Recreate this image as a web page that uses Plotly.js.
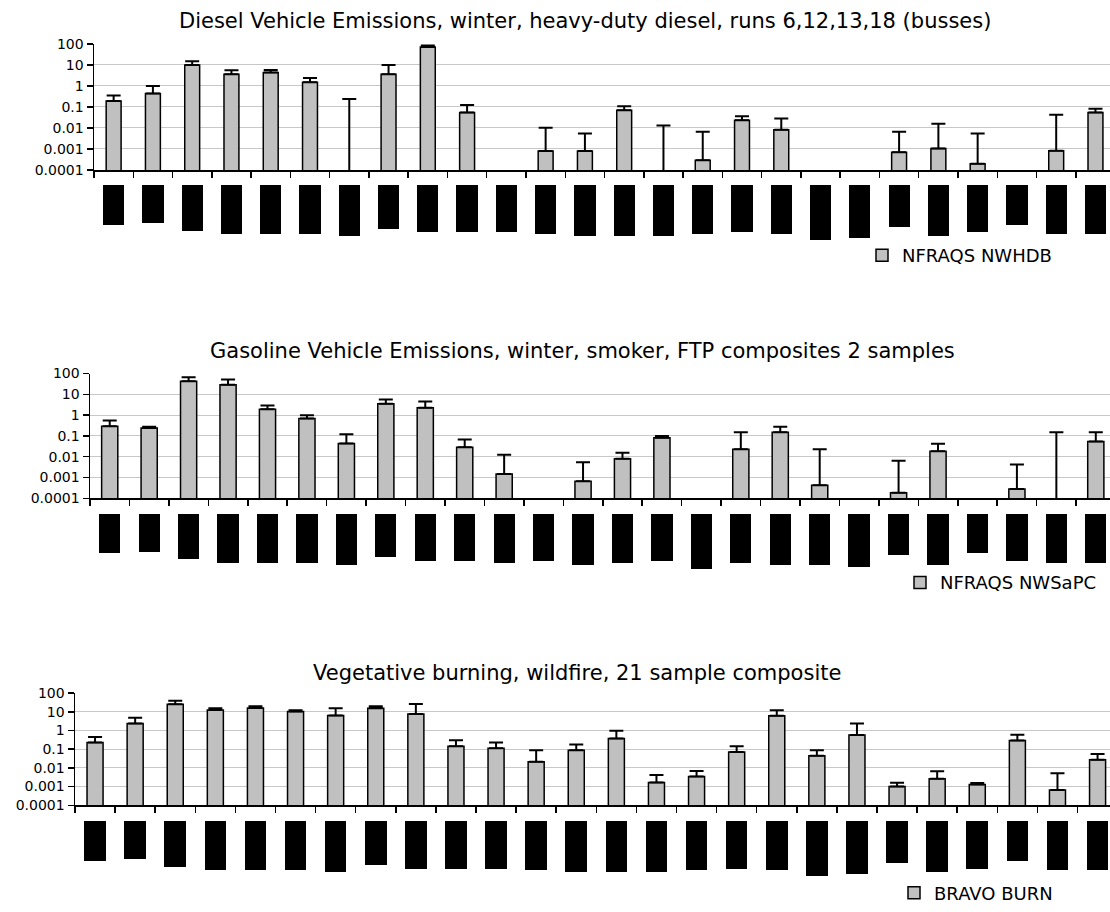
<!DOCTYPE html>
<html>
<head>
<meta charset="utf-8">
<script src="https://cdn.plot.ly/plotly-3.0.1.min.js"></script>
<style>
  html, body { margin: 0; padding: 0; background: #ffffff; }
  #chart { width: 1110px; height: 912px; }
</style>
</head>
<body>
<div id="chart"></div>
<script>
// ---------------- data ----------------
const species = ['1','2','3','4','5','6','7','8','9','10','11','12','13',
                 '14','15','16','17','18','19','20','21','22','23','24','25','26'];

// panel titles and legend names
const panelTitles = [
  'Diesel Vehicle Emissions, winter, heavy-duty diesel, runs 6,12,13,18 (busses)',
  'Gasoline Vehicle Emissions, winter, smoker, FTP composites 2 samples',
  'Vegetative burning, wildfire, 21 sample composite'
];
const seriesNames = ['NFRAQS NWHDB', 'NFRAQS NWSaPC', 'BRAVO BURN'];

// y tick labels (log scale)
const yTickVals = [0.0001, 0.001, 0.01, 0.1, 1, 10, 100];
const yTickText = ['0.0001', '0.001', '0.01', '0.1', '1', '10', '100'];

// values (0.00001 = below the axis floor, only the error bar shows)
const dieselMean = [0.19, 0.44, 10, 3.6, 4.3, 1.5, 0.00001, 3.6, 70, 0.054, null, 0.0008, 0.0008,
                    0.069, 0.00001, 0.00029, 0.023, 0.0082, null, null, 0.0007, 0.00104, 0.0002, null, 0.00083, 0.054];
const dieselErr  = [0.16, 0.56, 5, 1.9, 1.4, 0.9, 0.24, 6.4, 13, 0.069, null, 0.0093, 0.0047,
                    0.038, 0.013, 0.0063, 0.013, 0.02, null, null, 0.0059, 0.0147, 0.0053, null, 0.042, 0.029];

const gasMean = [0.29, 0.24, 43, 29, 1.93, 0.69, 0.043, 3.5, 2.3, 0.029, 0.0015, null, 0.00067,
                 0.008, 0.083, null, 0.023, 0.15, 0.00043, null, 0.000186, 0.0186, null, 0.00028, 0.00001, 0.054];
const gasErr  = [0.27, 0.04, 24, 23, 0.97, 0.31, 0.077, 2.1, 2.2, 0.038, 0.0109, null, 0.0047,
                 0.0075, 0.017, null, 0.127, 0.13, 0.0226, null, 0.0063, 0.024, null, 0.004, 0.15, 0.096];

const fireMean = [0.226, 2.4, 25, 12.6, 16, 10.3, 6.3, 15.5, 7.7, 0.145, 0.113, 0.0215, 0.089,
                  0.37, 0.00166, 0.00345, 0.07, 6.1, 0.0445, 0.575, 0.001, 0.0026, 0.0013, 0.288, 0.00065, 0.0274];
const fireErr  = [0.224, 2.35, 14, 2.9, 3.7, 1.8, 9.2, 4.2, 18.3, 0.155, 0.113, 0.0675, 0.088,
                  0.6, 0.00254, 0.00345, 0.075, 6.0, 0.0445, 1.825, 0.0006, 0.004, 0.00023, 0.312, 0.00455, 0.0272];

// lower error (error bars are drawn upward only)
const lowerErr = [0,0,0,0,0,0,0,0,0,0,0,0,0,0,0,0,0,0,0,0,0,0,0,0,0,0];

// category label lengths (labels are rendered as solid black blocks), px
const dieselLabelLen = [41, 39, 47, 50, 50, 50, 52, 45, 48, 48, 48, 50, 52, 52, 52, 50, 48, 50, 56, 54, 43, 52, 48, 41, 50, 50];
const gasLabelLen    = [40, 39, 46, 50, 50, 50, 52, 44, 48, 48, 50, 48, 52, 50, 48, 56, 50, 52, 52, 54, 42, 52, 40, 48, 50, 50];
const fireLabelLen   = [41, 39, 47, 50, 50, 50, 52, 45, 49, 49, 49, 50, 52, 52, 52, 50, 49, 50, 56, 54, 43, 52, 49, 41, 50, 50];

// ---------------- layout geometry (pixels) ----------------
const W = 1110, H = 912;
const FONT = 'DejaVu Sans';
const panels = [
  { mean: dieselMean, err: dieselErr, lab: dieselLabelLen, left: 94, top: 44.3, bottom: 171.7, blockTop: 186.7,
    xmax: 25.37, barW: 0.38, titleX: 584.5, titleY: 21, legX: 862, legY: 258 },
  { mean: gasMean, err: gasErr, lab: gasLabelLen, left: 90, top: 377.3, bottom: 503.3, blockTop: 519,
    xmax: 25.36, barW: 0.41, titleX: 582, titleY: 355, legX: 900, legY: 588.5 },
  { mean: fireMean, err: fireErr, lab: fireLabelLen, left: 75, top: 700, bottom: 813.3, blockTop: 829,
    xmax: 25.31, barW: 0.40, titleX: 577, titleY: 680, legX: 894, legY: 902 }
];

const fy = px => 1 - px / H;
const data = [];
const layout = {
  width: W, height: H, autosize: false,
  margin: { l: 0, r: 0, t: 0, b: 0, pad: 0 },
  paper_bgcolor: '#ffffff', plot_bgcolor: 'rgba(0,0,0,0)',
  font: { family: FONT, size: 14, color: '#000000' },
  bargap: 0,
  annotations: [],
  showlegend: true
};

panels.forEach((p, i) => {
  const n = i + 1;            // main axes
  const b = i + 4;            // label-block axes
  const t = i + 7;            // top border axis
  const xs = n === 1 ? 'x' : 'x' + n;
  const ys = n === 1 ? 'y' : 'y' + n;
  const legName = n === 1 ? 'legend' : 'legend' + n;

  data.push({
    type: 'bar', x: species, y: p.mean, xaxis: xs, yaxis: ys,
    name: seriesNames[i], legend: legName, width: p.barW,
    marker: { color: '#c0c0c0', line: { color: '#000000', width: 1.5 } },
    error_y: { type: 'data', symmetric: false, array: p.err, arrayminus: lowerErr,
               color: '#000000', thickness: 2, width: 7 },
    hoverinfo: 'x+y'
  });
  data.push({
    type: 'bar', x: species, y: p.lab, xaxis: 'x' + b, yaxis: 'y' + b,
    showlegend: false, width: 0.54, marker: { color: '#000000', line: { width: 0 } },
    hoverinfo: 'skip'
  });

  const xdom = [p.left / W, 1];
  layout['xaxis' + (n === 1 ? '' : n)] = {
    type: 'category', domain: xdom, anchor: ys, range: [-0.5, p.xmax],
    tickson: 'boundaries', ticks: 'outside', ticklen: 6, tickwidth: 1.5, tickcolor: '#000000',
    showline: true, linecolor: '#000000', linewidth: 1.5,
    showticklabels: false, showgrid: false, zeroline: false, fixedrange: true
  };
  layout['yaxis' + (n === 1 ? '' : n)] = {
    type: 'log', domain: [fy(p.bottom), fy(p.top)], anchor: xs, range: [-4, 2],
    tickmode: 'array', tickvals: yTickVals, ticktext: yTickText,
    ticks: 'outside', ticklen: 6, tickwidth: 1.5, tickcolor: '#000000',
    tickfont: { family: FONT, size: 14, color: '#000000' },
    showline: true, linecolor: '#000000', linewidth: 1.5,
    showgrid: true, gridcolor: '#c8c8c8', gridwidth: 1, zeroline: false, fixedrange: true
  };
  layout['xaxis' + b] = {
    type: 'category', domain: xdom, anchor: 'y' + b, range: [-0.5, p.xmax],
    visible: false, fixedrange: true
  };
  layout['yaxis' + b] = {
    domain: [fy(p.blockTop + 60), fy(p.blockTop)], anchor: 'x' + b, range: [60, 0],
    visible: false, fixedrange: true
  };
  layout['xaxis' + t] = {
    overlaying: xs, anchor: ys, side: 'top', range: [0, 1],
    showline: true, linecolor: '#8c8c8c', linewidth: 2,
    ticks: '', showticklabels: false, showgrid: false, zeroline: false, fixedrange: true
  };
  layout.annotations.push({
    text: panelTitles[i], xref: 'paper', yref: 'paper',
    x: p.titleX / W, y: fy(p.titleY), xanchor: 'center', yanchor: 'middle',
    showarrow: false, font: { family: FONT, size: 21, color: '#000000' }
  });
  layout[legName] = {
    x: p.legX / W, y: fy(p.legY), xanchor: 'left', yanchor: 'middle',
    xref: 'paper', yref: 'paper', bgcolor: 'rgba(0,0,0,0)', borderwidth: 0,
    font: { family: FONT, size: 18, color: '#000000' }
  };
});

Plotly.newPlot('chart', data, layout, { displayModeBar: false, staticPlot: true });
</script>
</body>
</html>
